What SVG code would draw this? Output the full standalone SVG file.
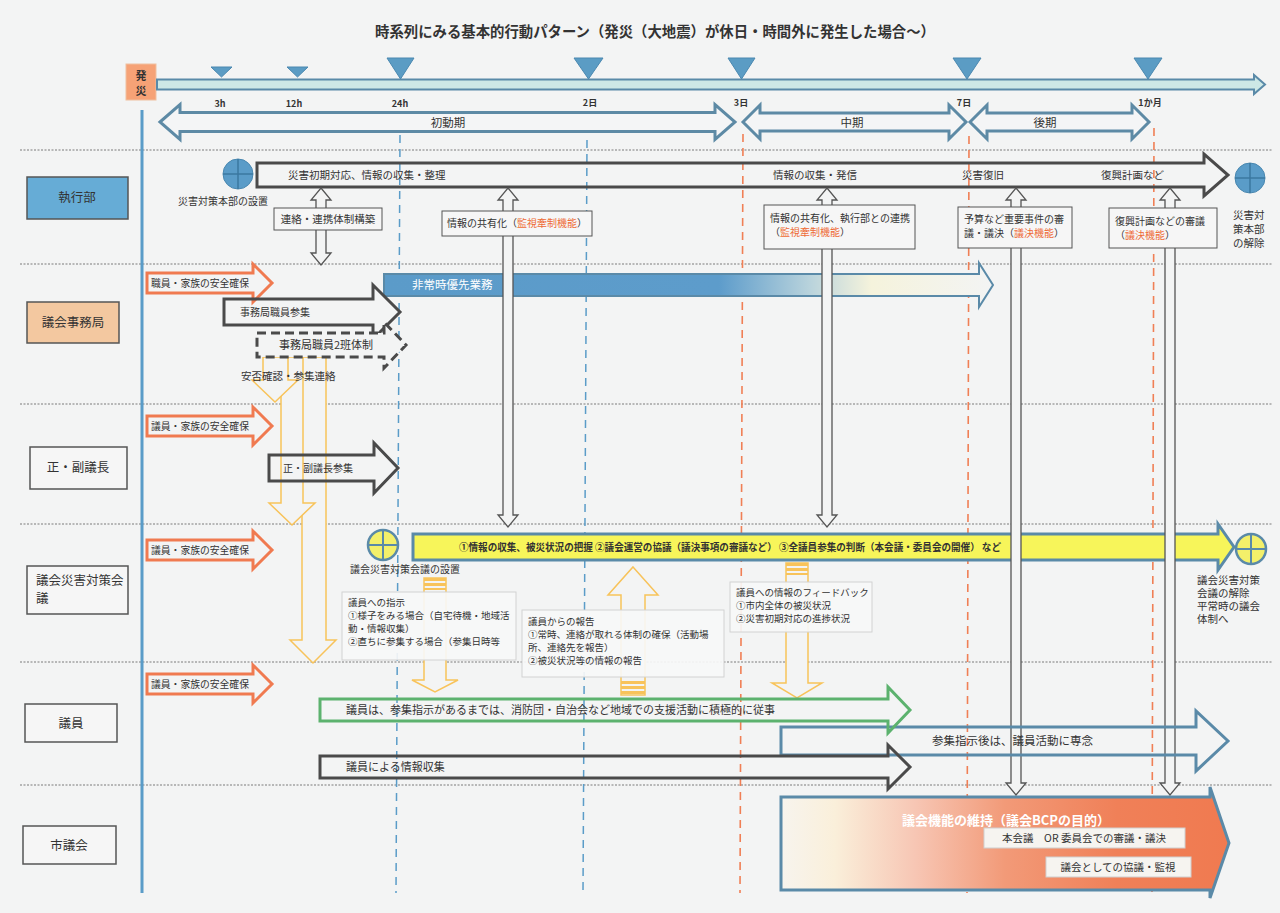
<svg xmlns="http://www.w3.org/2000/svg" width="1280" height="913" viewBox="0 0 1280 913">
<defs>
<style>
.t{font-family:"Noto Sans CJK JP","Noto Sans CJK SC",sans-serif;fill:#333;}
.sep{stroke:#7a7a7a;stroke-width:1;stroke-dasharray:2 1.5;fill:none}
.vb{stroke:#5a9cc8;stroke-width:1.5;stroke-dasharray:8 6;fill:none}
.vo{stroke:#f07f55;stroke-width:1.6;stroke-dasharray:8 6;fill:none}
.lbl{fill:#f6f6f6;stroke:#555;stroke-width:1.5}
.dark{fill:none;stroke:#4a4a4a;stroke-width:3}
.org{fill:none;stroke:#f07a50;stroke-width:3}
.per{fill:#f4f5f6;stroke:#5d8aa5;stroke-width:3}
.va{fill:#f3f4f4;stroke:#555;stroke-width:1.3}
.thin{fill:#f3f4f4;stroke:#f8c35a;stroke-width:1.5}
.ebox{fill:#f6f6f6;stroke:#555;stroke-width:1}
.nbox{fill:#f7f7f7;fill-opacity:0.92;stroke:#d2d2d2;stroke-width:1}
.tri{fill:#5b9cc4;stroke:#4a88b0;stroke-width:1}
.red{fill:#ee6a35}
.stripe{fill:#f8c35a}
</style>
<linearGradient id="gBlue" gradientUnits="userSpaceOnUse" x1="384" y1="0" x2="993" y2="0">
<stop offset="0" stop-color="#5b9bc9"/>
<stop offset="0.55" stop-color="#5d9ccb"/>
<stop offset="0.7" stop-color="#b9d3dc"/>
<stop offset="0.8" stop-color="#f5f3dc"/>
<stop offset="1" stop-color="#f3f4f4"/>
</linearGradient>
<linearGradient id="gOrg" gradientUnits="userSpaceOnUse" x1="781" y1="0" x2="1229" y2="0">
<stop offset="0" stop-color="#f7f4ee"/>
<stop offset="0.12" stop-color="#faefda"/>
<stop offset="0.3" stop-color="#f7c6b4"/>
<stop offset="0.5" stop-color="#f29a78"/>
<stop offset="0.75" stop-color="#f08058"/>
<stop offset="1" stop-color="#f07a50"/>
</linearGradient>
</defs>

<rect x="0" y="0" width="1280" height="913" fill="#f3f4f4"/>

<text class="t" x="655" y="37" font-size="14.5" font-weight="700" text-anchor="middle" textLength="560" lengthAdjust="spacingAndGlyphs">時系列にみる基本的行動パターン（発災（大地震）が休日・時間外に発生した場合～）</text>

<g id="separators">
<line class="sep" x1="20" y1="150" x2="1272" y2="150"/>
<line class="sep" x1="20" y1="264" x2="1272" y2="264"/>
<line class="sep" x1="20" y1="404" x2="1272" y2="404"/>
<line class="sep" x1="20" y1="524" x2="1272" y2="524"/>
<line class="sep" x1="20" y1="662" x2="1272" y2="662"/>
<line class="sep" x1="20" y1="785" x2="1272" y2="785"/>
</g>

<g id="guides">
<line class="vb" x1="400" y1="135" x2="396" y2="893"/>
<line class="vb" x1="587" y1="140" x2="583" y2="893"/>
<line class="vo" x1="743" y1="134" x2="740" y2="893"/>
<line class="vo" x1="969" y1="136" x2="967" y2="893"/>
<line class="vo" x1="1154" y1="128" x2="1152" y2="893"/>
<line x1="142" y1="110" x2="142" y2="893" stroke="#5a9cc8" stroke-width="3"/>
</g>

<g id="timeline">
<rect x="126" y="64" width="30" height="36" fill="#f6a276" stroke="#f0c0a0" stroke-width="1"/>
<text class="t" x="141" y="80" font-size="11" font-weight="700" text-anchor="middle" fill="#555">発</text>
<text class="t" x="141" y="95" font-size="11" font-weight="700" text-anchor="middle" fill="#555">災</text>
<path d="M157,79.5 H1254 V75 L1265,84.5 L1254,94 V89.5 H157 Z" fill="#cde8e6" stroke="#5a8aa8" stroke-width="2"/>
<path class="tri" d="M211,67 H232 L221.5,77 Z"/>
<path class="tri" d="M287,67 H308 L297.5,77 Z"/>
<path class="tri" d="M387,58 H414 L400.5,79 Z"/>
<path class="tri" d="M574,58 H603 L588.5,79 Z"/>
<path class="tri" d="M728,58 H755 L741.5,79 Z"/>
<path class="tri" d="M953,58 H981 L967,79 Z"/>
<path class="tri" d="M1134,58 H1162 L1148,79 Z"/>
<g class="t" font-size="9" font-weight="700" fill="#444" text-anchor="middle">
<text x="220" y="107">3h</text>
<text x="294" y="107">12h</text>
<text x="400" y="107">24h</text>
<text x="590" y="106">2日</text>
<text x="741" y="106">3日</text>
<text x="964" y="106">7日</text>
<text x="1150" y="106">1か月</text>
</g>
</g>

<g id="period-shodo">
<path class="per" d="M160,122 L180,104.5 V112.5 H715 V104.5 L735,122 L715,139.5 V131.5 H180 V139.5 Z"/>
<text class="t" x="448" y="127" font-size="11.5" text-anchor="middle">初動期</text>
</g>
<g id="period-chu">
<path class="per" d="M743,122 L760,105 V113 H949 V105 L966,122 L949,139 V131 H760 V139 Z"/>
<text class="t" x="852" y="127" font-size="11.5" text-anchor="middle">中期</text>
</g>
<g id="period-ko">
<path class="per" d="M970,122 L987,105 V113 H1132 V105 L1149,122 L1132,139 V131 H987 V139 Z"/>
<text class="t" x="1045" y="127" font-size="11.5" text-anchor="middle">後期</text>
</g>

<g id="lane-shikkobu"><rect x="27" y="177" width="101" height="42" fill="#66acd6" stroke="#555" stroke-width="1.5"/><text class="t" x="77" y="202" font-size="12.5" text-anchor="middle">執行部</text></g>
<g id="lane-jimukyoku"><rect x="27" y="302" width="92" height="41" fill="#f3c8a0" stroke="#555" stroke-width="1.5"/><text class="t" x="73" y="327" font-size="12.5" text-anchor="middle">議会事務局</text></g>
<g id="lane-gicho"><rect class="lbl" x="30" y="447" width="97" height="42"/><text class="t" x="78" y="472" font-size="12.5" text-anchor="middle">正・副議長</text></g>
<g id="lane-taisaku"><rect class="lbl" x="27" y="566" width="101" height="48"/><text class="t" x="36" y="585" font-size="12.5">議会災害対策会</text><text class="t" x="36" y="603" font-size="12.5">議</text></g>
<g id="lane-giin"><rect class="lbl" x="25" y="704" width="92" height="38"/><text class="t" x="71" y="728" font-size="12.5" text-anchor="middle">議員</text></g>
<g id="lane-shigikai"><rect class="lbl" x="23" y="826" width="93" height="38"/><text class="t" x="69" y="850" font-size="12.5" text-anchor="middle">市議会</text></g>

<g id="hq-setup">
<circle cx="238" cy="174" r="15" fill="#5a9cc8" stroke="#4a88b0" stroke-width="1"/>
<path d="M223,174 H253 M238,159 V189" stroke="#3b78a0" stroke-width="1.5"/>
<text class="t" x="178" y="205" font-size="10">災害対策本部の設置</text>
</g>
<g id="exec-flow">
<path class="dark" d="M257,163 H1204 V154 L1228,175 L1204,196 V187 H257 Z"/>
<g class="t" font-size="10.5">
<text x="288" y="179">災害初期対応、情報の収集・整理</text>
<text x="773" y="179">情報の収集・発信</text>
<text x="962" y="179">災害復旧</text>
<text x="1101" y="179">復興計画など</text>
</g>
</g>
<g id="hq-dissolve">
<circle cx="1250" cy="178" r="15" fill="#5a9cc8" stroke="#4a88b0" stroke-width="1"/>
<path d="M1235,178 H1265 M1250,163 V193" stroke="#3b78a0" stroke-width="1.5"/>
<g class="t" font-size="10.5"><text x="1233" y="219">災害対</text><text x="1233" y="233">策本部</text><text x="1233" y="247">の解除</text></g>
</g>

<g id="priority-work">
<path d="M384,274 H979 V263 L993,285 L979,307 V296 H384 Z" fill="url(#gBlue)" stroke="#5a8aa8" stroke-width="2"/>
<text class="t" x="412" y="289" font-size="11.5" style="fill:#ffffff">非常時優先業務</text>
</g>

<g id="council-setup">
<circle cx="383" cy="545" r="15" fill="#f3f06a" stroke="#5a8aa8" stroke-width="2.5"/>
<path d="M368,545 H398 M383,530 V560" stroke="#5a8aa8" stroke-width="2"/>
<text class="t" x="350" y="573" font-size="10">議会災害対策会議の設置</text>
</g>
<g id="council-tasks">
<path d="M413,534 H1218 V524 L1234,547 L1218,570 V560 H413 Z" fill="#f7f55a" stroke="#5a8aa8" stroke-width="3"/>
<text class="t" x="459" y="551" font-size="10" font-weight="700" textLength="542" lengthAdjust="spacingAndGlyphs">①情報の収集、被災状況の把握 ②議会運営の協議（議決事項の審議など） ③全議員参集の判断（本会議・委員会の開催） など</text>
</g>
<g id="council-dissolve">
<circle cx="1251" cy="549" r="15" fill="#f3f06a" stroke="#5a8aa8" stroke-width="2.5"/>
<path d="M1236,549 H1266 M1251,534 V564" stroke="#5a8aa8" stroke-width="2"/>
<g class="t" font-size="10.5"><text x="1197" y="584">議会災害対策</text><text x="1197" y="597">会議の解除</text><text x="1197" y="610">平常時の議会</text><text x="1197" y="623">体制へ</text></g>
</g>

<g id="council-function">
<path d="M781,797 H1210 V787 L1229,843 L1210,898 V890 H781 Z" fill="url(#gOrg)" stroke="#5a8aa8" stroke-width="3"/>
<text class="t" x="902" y="825" font-size="13" font-weight="700" style="fill:#ffffff" textLength="208" lengthAdjust="spacingAndGlyphs">議会機能の維持（議会BCPの目的）</text>
<rect x="984" y="828" width="201" height="20" fill="#f6f4f0" stroke="#cfcfcf" stroke-width="1"/>
<text class="t" x="1084" y="842" font-size="10.5" text-anchor="middle">本会議　OR 委員会での審議・議決</text>
<rect x="1046" y="857" width="145" height="20" fill="#f6f4f0" stroke="#cfcfcf" stroke-width="1"/>
<text class="t" x="1118" y="871" font-size="10.5" text-anchor="middle">議会としての協議・監視</text>
</g>

<g id="connectors">
<path class="thin" d="M302,357 V640 H290 L313,663 L336,640 H326 V357 Z"/>
<path class="thin" d="M281,357 V503 H269 L292,525 L315,503 H303 V357 Z"/>
<path class="thin" d="M263,357 V380 H252 L275,402 L298,380 H288 V357 Z"/>
<path class="thin" d="M424,578 V680 H412 L435,692 L458,680 H446 V578 Z"/>
<rect class="stripe" x="424" y="578" width="22" height="3"/><rect class="stripe" x="424" y="583" width="22" height="3"/><rect class="stripe" x="424" y="588" width="22" height="2"/>
<path class="thin" d="M633,567 L658,595 H645 V695 H621 V595 H608 Z"/>
<rect class="stripe" x="621" y="681" width="24" height="3"/><rect class="stripe" x="621" y="686" width="24" height="3"/><rect class="stripe" x="621" y="691" width="24" height="3"/>
<path class="thin" d="M786,563 V683 H772 L797,698 L822,683 H808 V563 Z"/>
<rect class="stripe" x="786" y="563" width="22" height="3"/><rect class="stripe" x="786" y="568" width="22" height="3"/><rect class="stripe" x="786" y="573" width="22" height="2"/>
<path class="va" d="M321,188 L331,200 H326 V253 H331 L321,265 L311,253 H316 V200 H311 Z"/>
<path class="va" d="M508,188 L518,200 H513 V515 H518 L508,527 L498,515 H503 V200 H498 Z"/>
<path class="va" d="M827,188 L837,200 H832 V515 H837 L827,527 L817,515 H822 V200 H817 Z"/>
<path class="va" d="M1016,188 L1026,200 H1021 V783 H1026 L1016,795 L1006,783 H1011 V200 H1006 Z"/>
<path class="va" d="M1170,188 L1180,200 H1175 V783 H1180 L1170,795 L1160,783 H1165 V200 H1160 Z"/>
</g>

<g id="box-renraku"><rect class="ebox" x="274" y="208" width="108" height="22"/><text class="t" x="328" y="223" font-size="10.5" text-anchor="middle">連絡・連携体制構築</text></g>
<g id="box-kyoyu1"><rect class="ebox" x="442" y="211" width="150" height="25"/><text class="t" x="447" y="227" font-size="10">情報の共有化（<tspan class="red">監視牽制機能</tspan>）</text></g>
<g id="box-kyoyu2"><rect class="ebox" x="764" y="205" width="151" height="44"/><text class="t" x="770" y="222" font-size="10">情報の共有化、執行部との連携</text><text class="t" x="770" y="236" font-size="10">（<tspan class="red">監視牽制機能</tspan>）</text></g>
<g id="box-yosan"><rect class="ebox" x="958" y="207" width="114" height="41"/><text class="t" x="964" y="223" font-size="10">予算など重要事件の審</text><text class="t" x="964" y="237" font-size="10">議・議決（<tspan class="red">議決機能</tspan>）</text></g>
<g id="box-fukko"><rect class="ebox" x="1109" y="208" width="108" height="40"/><text class="t" x="1115" y="225" font-size="10">復興計画などの審議</text><text class="t" x="1115" y="239" font-size="10">（<tspan class="red">議決機能</tspan>）</text></g>

<g id="staff-safety"><path class="org" d="M147,273 H253 V264 L272,283 L253,302 V293 H147 Z"/><text class="t" x="151" y="287" font-size="9.8">職員・家族の安全確保</text></g>
<g id="staff-gather"><path class="dark" d="M224,299 H373 V285 L400,312 L373,339 V325 H224 Z"/><text class="t" x="240" y="316" font-size="10">事務局職員参集</text></g>
<g id="staff-2shift"><path d="M257,333 H384 V322 L406,345 L384,368 V357 H257 Z" fill="#f3f4f4" stroke="#4a4a4a" stroke-width="3" stroke-dasharray="9 5"/><text class="t" x="279" y="349" font-size="11">事務局職員2班体制</text></g>
<g id="anpi-label"><text class="t" x="241" y="380" font-size="10.5">安否確認・参集連絡</text></g>

<g id="chair-safety"><path class="org" d="M147,416 H253 V407 L272,426 L253,445 V436 H147 Z"/><text class="t" x="151" y="430" font-size="9.8">議員・家族の安全確保</text></g>
<g id="chair-gather"><path class="dark" d="M269,455 H374 V443 L398,468 L374,493 V481 H269 Z"/><text class="t" x="283" y="472" font-size="10">正・副議長参集</text></g>

<g id="meeting-safety"><path class="org" d="M147,540 H253 V531 L272,550 L253,569 V560 H147 Z"/><text class="t" x="151" y="554" font-size="9.8">議員・家族の安全確保</text></g>
<g id="box-shiji"><rect class="nbox" x="342" y="592" width="174" height="68"/>
<g class="t" font-size="9.5"><text x="348" y="606">議員への指示</text><text x="348" y="619">①様子をみる場合（自宅待機・地域活</text><text x="348" y="632">動・情報収集）</text><text x="348" y="645">②直ちに参集する場合（参集日時等</text></g></g>
<g id="box-hokoku"><rect class="nbox" x="522" y="610" width="202" height="67"/>
<g class="t" font-size="9.5"><text x="528" y="625">議員からの報告</text><text x="528" y="638">①常時、連絡が取れる体制の確保（活動場</text><text x="528" y="651">所、連絡先を報告）</text><text x="528" y="664">②被災状況等の情報の報告</text></g></g>
<g id="box-feedback"><rect class="nbox" x="730" y="582" width="142" height="50"/>
<g class="t" font-size="9.5"><text x="736" y="596">議員への情報のフィードバック</text><text x="736" y="609">①市内全体の被災状況</text><text x="736" y="622">②災害初期対応の進捗状況</text></g></g>

<g id="member-safety"><path class="org" d="M147,674 H253 V665 L272,684 L253,703 V694 H147 Z"/><text class="t" x="151" y="688" font-size="9.8">議員・家族の安全確保</text></g>
<g id="member-focus"><path d="M781,727 H1196 V711 L1228,741 L1196,771 V755 H781 Z" fill="none" stroke="#5a8aa8" stroke-width="3"/><text class="t" x="932" y="745" font-size="11.5">参集指示後は、議員活動に専念</text></g>
<g id="member-local"><path d="M320,699 H888 V687 L910,710 L888,733 V721 H320 Z" fill="none" stroke="#5cb26e" stroke-width="3"/><text class="t" x="346" y="714" font-size="11">議員は、参集指示があるまでは、消防団・自治会など地域での支援活動に積極的に従事</text></g>
<g id="member-info"><path class="dark" d="M320,756 H888 V745 L910,767 L888,789 V778 H320 Z"/><text class="t" x="346" y="771" font-size="11">議員による情報収集</text></g>
</svg>
